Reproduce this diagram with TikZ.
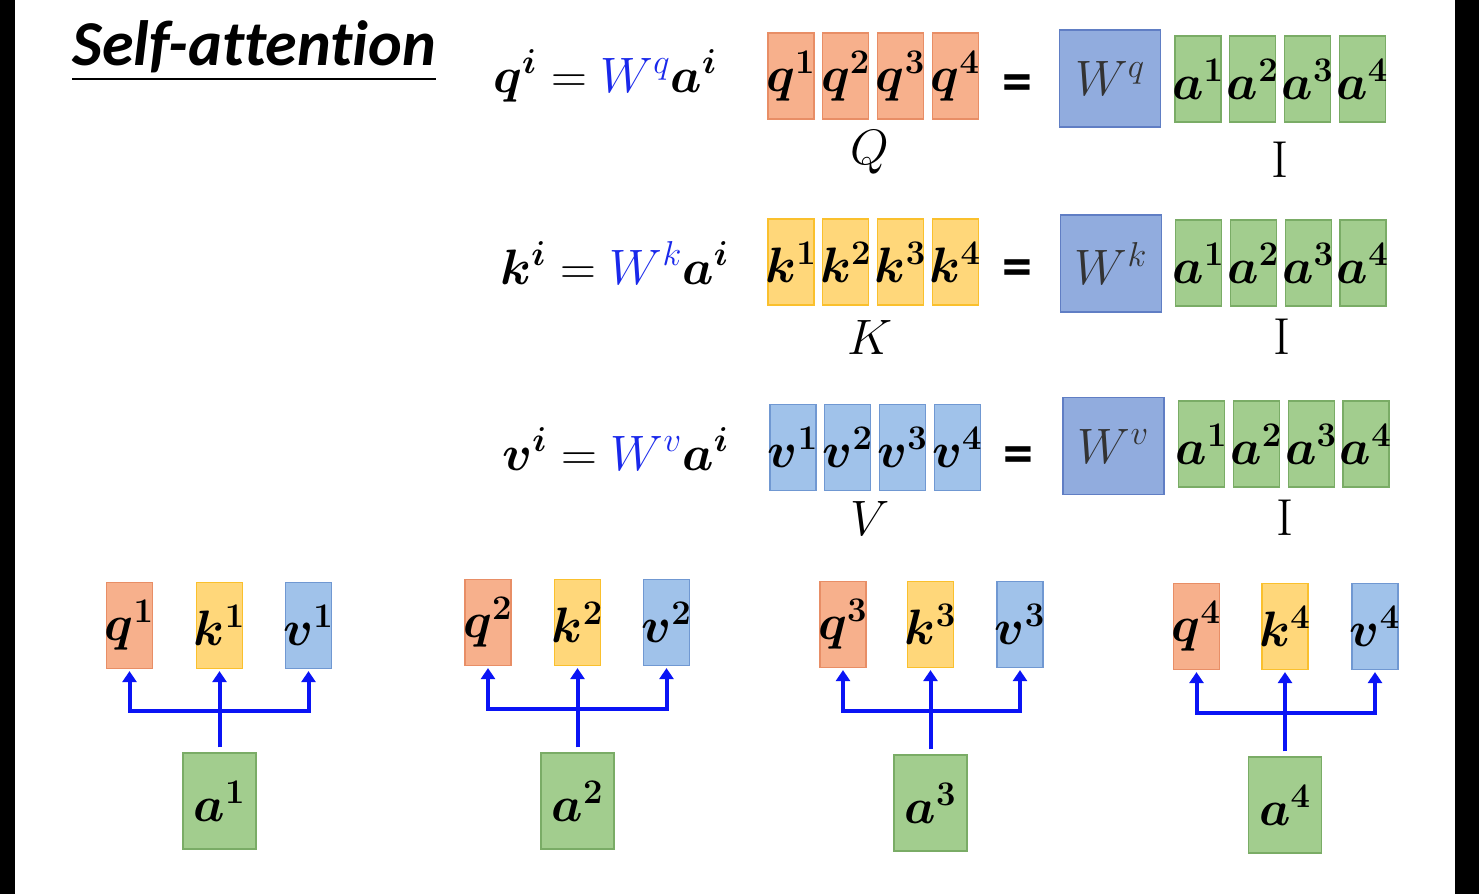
\documentclass[tikz,border=0pt]{standalone}
\usepackage{fontspec}
\usepackage{amsmath}
\usepackage{bm}
\usepackage{tikz}
\usetikzlibrary{arrows.meta, positioning, calc}
\newfontfamily\titlefont[Ligatures={NoCommon}]{Carlito}
\definecolor{qfill}{RGB}{247,176,140}
\definecolor{qline}{RGB}{232,142,102}
\definecolor{kfill}{RGB}{255,215,122}
\definecolor{kline}{RGB}{250,192,45}
\definecolor{vfill}{RGB}{160,194,234}
\definecolor{vline}{RGB}{112,152,210}
\definecolor{wfill}{RGB}{145,172,222}
\definecolor{wline}{RGB}{96,126,196}
\definecolor{afill}{RGB}{162,205,142}
\definecolor{aline}{RGB}{122,172,102}
\definecolor{eqblue}{RGB}{25,40,235}
\definecolor{arrblue}{RGB}{10,20,245}
\newcommand{\bsup}[2]{\makebox[0pt]{$\bm{#1}^{\bm{#2}}$}}

\begin{document}
\begin{tikzpicture}[x=0.5pt, y=-0.5pt, font=\fontsize{26}{30}\selectfont, node distance=3.8pt,
    cell/.style={draw, line width=0.6pt, minimum width=23pt, minimum height=43pt, inner sep=0pt},
    qb/.style={cell, draw=qline, fill=qfill},
    kb/.style={cell, draw=kline, fill=kfill},
    vb/.style={cell, draw=vline, fill=vfill},
    ab/.style={cell, draw=aline, fill=afill},
    wb/.style={cell, draw=wline, fill=wfill, minimum width=50.5pt, minimum height=48.5pt, text=black!80},
    big/.style={minimum width=36.5pt, minimum height=48pt},
    eq/.style={anchor=base west, inner sep=0pt},
    eqsign/.style={font=\titlefont\bfseries\fontsize{30}{30}\selectfont, inner sep=0pt},
    arr/.style={-{Triangle[length=5.5pt, width=7pt]}, line width=2pt, draw=arrblue, shorten <=2.5pt, shorten >=1pt}]
    \useasboundingbox (0,0) rectangle (1479,894);
    \fill[white] (0,0) rectangle (1479,894);
    \fill[black] (0,0) rectangle (15,894);
    \fill[black] (1455,0) rectangle (1479,894);

    \node[anchor=base west, inner sep=0pt, font=\titlefont\bfseries\itshape\fontsize{32}{34}\selectfont] (title) at (72,65) {Self-attention};
    \draw[line width=1pt] ([yshift=-7pt]title.base west) -- ([yshift=-7pt]title.base east);

    \node[eq] (eqq) at (493,92) {$\bm{q}^{\bm{i}} = {\color{eqblue}W^{q}}\bm{a}^{\bm{i}}$};
    \node[eq] (eqk) at (500,284) {$\bm{k}^{\bm{i}} = {\color{eqblue}W^{k}}\bm{a}^{\bm{i}}$};
    \node[eq] (eqv) at (502,470) {$\bm{v}^{\bm{i}} = {\color{eqblue}W^{v}}\bm{a}^{\bm{i}}$};

    \node[qb] (rq1) at (791,76) {\bsup{q}{1}};
    \node[qb, right=of rq1] (rq2) {\bsup{q}{2}};
    \node[qb, right=of rq2] (rq3) {\bsup{q}{3}};
    \node[qb, right=of rq3] (rq4) {\bsup{q}{4}};
    \node[eqsign] (isq) at (1017,88) {=};
    \node[wb] (wq) at (1110,78.5) {$W^{q}$};
    \node[ab] (ra11) at (1198,79) {\bsup{a}{1}};
    \node[ab, right=of ra11] (ra12) {\bsup{a}{2}};
    \node[ab, right=of ra12] (ra13) {\bsup{a}{3}};
    \node[ab, right=of ra13] (ra14) {\bsup{a}{4}};
    \node (lq) at (870,152) {$Q$};
    \node (li1) at (1280,160) {$\mathrm{I}$};

    \node[kb] (rk1) at (791,262) {\bsup{k}{1}};
    \node[kb, right=of rk1] (rk2) {\bsup{k}{2}};
    \node[kb, right=of rk2] (rk3) {\bsup{k}{3}};
    \node[kb, right=of rk3] (rk4) {\bsup{k}{4}};
    \node[eqsign] (isk) at (1017,273) {=};
    \node[wb] (wk) at (1111,263.5) {$W^{k}$};
    \node[ab] (ra21) at (1198.5,263) {\bsup{a}{1}};
    \node[ab, right=of ra21] (ra22) {\bsup{a}{2}};
    \node[ab, right=of ra22] (ra23) {\bsup{a}{3}};
    \node[ab, right=of ra23] (ra24) {\bsup{a}{4}};
    \node (lk) at (870,337) {$K$};
    \node (li2) at (1282,337) {$\mathrm{I}$};

    \node[vb] (rv1) at (793,447.5) {\bsup{v}{1}};
    \node[vb, right=of rv1] (rv2) {\bsup{v}{2}};
    \node[vb, right=of rv2] (rv3) {\bsup{v}{3}};
    \node[vb, right=of rv3] (rv4) {\bsup{v}{4}};
    \node[eqsign] (isv) at (1018,460) {=};
    \node[wb] (wv) at (1113.5,446) {$W^{v}$};
    \node[ab] (ra31) at (1201.5,444) {\bsup{a}{1}};
    \node[ab, right=of ra31] (ra32) {\bsup{a}{2}};
    \node[ab, right=of ra32] (ra33) {\bsup{a}{3}};
    \node[ab, right=of ra33] (ra34) {\bsup{a}{4}};
    \node (lv) at (870,518) {$V$};
    \node (li3) at (1285,518) {$\mathrm{I}$};

    \node[qb] (q1) at (129.5,625.5) {\bsup{q}{1}};
    \node[kb] (k1) at (219.5,625.5) {\bsup{k}{1}};
    \node[vb] (v1) at (308.5,625.5) {\bsup{v}{1}};
    \node[ab, big] (a1) at (219.5,801) {\bsup{a}{1}};
    \coordinate (j1) at ($(a1.north)!.5!(k1.south)$);
    \draw[arr] (a1) -- (k1); \draw[arr, shorten <=0pt] (j1) -| (q1); \draw[arr, shorten <=0pt] (j1) -| (v1);

    \node[qb] (q2) at (488,622.5) {\bsup{q}{2}};
    \node[kb] (k2) at (577.5,622.5) {\bsup{k}{2}};
    \node[vb] (v2) at (666.5,622.5) {\bsup{v}{2}};
    \node[ab, big] (a2) at (577.5,801) {\bsup{a}{2}};
    \coordinate (j2) at ($(a2.north)!.5!(k2.south)$);
    \draw[arr] (a2) -- (k2); \draw[arr, shorten <=0pt] (j2) -| (q2); \draw[arr, shorten <=0pt] (j2) -| (v2);

    \node[qb] (q3) at (843,624.5) {\bsup{q}{3}};
    \node[kb] (k3) at (930.5,624.5) {\bsup{k}{3}};
    \node[vb] (v3) at (1020,624.5) {\bsup{v}{3}};
    \node[ab, big] (a3) at (930.5,803) {\bsup{a}{3}};
    \coordinate (j3) at ($(a3.north)!.5!(k3.south)$);
    \draw[arr] (a3) -- (k3); \draw[arr, shorten <=0pt] (j3) -| (q3); \draw[arr, shorten <=0pt] (j3) -| (v3);

    \node[qb] (q4) at (1196.5,626.5) {\bsup{q}{4}};
    \node[kb] (k4) at (1285,626.5) {\bsup{k}{4}};
    \node[vb] (v4) at (1375,626.5) {\bsup{v}{4}};
    \node[ab, big] (a4) at (1285,805) {\bsup{a}{4}};
    \coordinate (j4) at ($(a4.north)!.5!(k4.south)$);
    \draw[arr] (a4) -- (k4); \draw[arr, shorten <=0pt] (j4) -| (q4); \draw[arr, shorten <=0pt] (j4) -| (v4);
\end{tikzpicture}
\end{document}
